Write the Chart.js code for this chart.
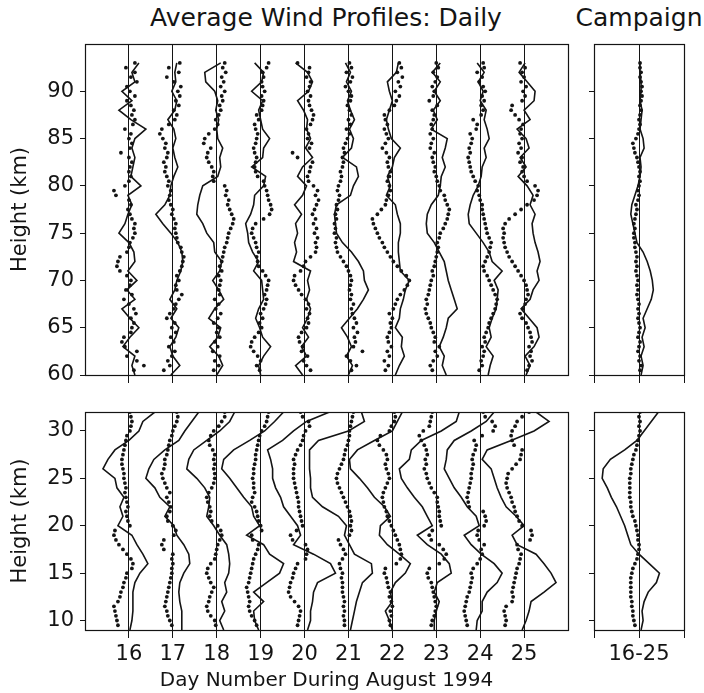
<!DOCTYPE html>
<html>
<head>
<meta charset="utf-8">
<script src="https://cdn.jsdelivr.net/npm/chart.js@4.4.1/dist/chart.umd.min.js"></script>
<style>
  body { margin: 0; background: #fff; }
  #page { position: relative; width: 704px; height: 693px; overflow: hidden; background: #fff; }
  canvas { position: absolute; }
  .head { position: absolute; top: 3px; text-align: center; font: 25px "DejaVu Sans", sans-serif; color: #141414; white-space: nowrap; }
</style>
</head>
<body>
<div id="page">
  <div class="head" style="left:84px; width:484px;">Average Wind Profiles: Daily</div>
  <div class="head" style="left:564px; width:150px;">Campaign</div>
  <canvas id="upperDaily" width="580" height="360" style="left:0; top:40px;"></canvas>
  <canvas id="lowerDaily" width="580" height="285" style="left:0; top:408px;"></canvas>
  <canvas id="upperCamp" width="102" height="360" style="left:584px; top:40px;"></canvas>
  <canvas id="lowerCamp" width="102" height="285" style="left:584px; top:408px;"></canvas>
</div>
<script>
// wind profiles, drawn as an offset (m/s) from each day's line
const DAYS = [16, 17, 18, 19, 20, 21, 22, 23, 24, 25];
const MS_PER_DAY = 44;   // wind speed that spans one day on the x axis

function steps(from, to, step) {
    const out = [];
    for (let v = from; v <= to + 1e-9; v += step) out.push(+v.toFixed(1));
    return out;
}

// range gates (km)
const upperLineKm = steps(60, 93, 1);
const upperDotKm = steps(60.5, 93, 0.5);
const lowerLineKm = steps(9, 32, 1);
const lowerDotKm = steps(9.5, 32, 0.5);

const upperTicks = [60, 65, 70, 75, 80, 85, 90];
const lowerTicks = [10, 15, 20, 25, 30];

// ---- upper panel (60-93 km), solid line ----
const upLine16 = [6,3,6,-6,1,10,1,-7,6,-2,8,-1,6,5,0,-10,-4,-1,3,-1,12,2,4,6,3,6,17,2,-10,3,-7,6,3,10];
const upLine17 = [-2,7,0,-3,3,6,-2,4,-3,2,4,8,10,9,5,-2,-10,-17,-8,-3,-2,1,5,2,0,3,1,-5,2,4,-1,3,2,4];
const upLine18 = [0,6,2,-7,1,4,-8,-2,7,2,-4,3,5,-2,-3,-10,-14,-20,-19,-17,-14,1,4,3,6,1,0,2,-1,1,-2,-11,-12,4];
const upLine19 = [0,-2,3,10,2,-1,-5,-2,3,2,1,-7,-2,-8,-12,-13,-15,-10,-7,-6,3,5,-9,2,3,9,2,0,-2,2,-9,1,3,-6];
const upLine20 = [-2,-9,2,-3,4,-2,3,6,2,5,3,6,-11,-8,-10,-7,-9,-3,-10,-2,2,-7,-2,8,1,6,2,3,-1,-7,4,8,3,-9];
const upLine21 = [0,4,-2,3,-1,-7,1,9,15,20,16,15,10,3,-6,-12,-13,-14,-12,2,5,10,8,-6,3,5,1,6,2,-1,3,-2,2,-3];
const upLine22 = [3,7,12,9,10,3,7,8,11,13,17,8,7,6,6,8,8,5,3,-6,-2,-5,0,2,8,-1,-4,-6,-3,0,-3,-5,4,6];
const upLine23 = [10,6,8,3,7,10,12,21,18,15,12,10,8,3,-2,-9,-10,-9,-5,2,4,5,9,6,9,11,-5,1,-3,4,-2,4,-4,4];
const upLine24 = [8,10,13,6,11,9,12,16,17,18,14,22,12,9,3,-4,-11,-12,-10,-7,-2,1,2,6,4,9,7,4,6,0,3,-2,4,-3];
const upLine25 = [2,6,1,10,15,13,5,-3,6,9,15,13,16,14,11,9,8,11,6,9,3,-6,2,-4,5,2,-7,6,0,10,11,3,-5,1];

// ---- upper panel, dotted ----
const upDots16 = [5,15,8,-2,8,-4,-7,-5,2,3, 5,2,7,5,0,-5,3,-3,1,2, -2,-9,-12,-11,-9,-2,0,1,4,6, 5,6,3,1,-1,2,0,-13,-15,-4, 0,2,0,1,3,0,-8,1,3,0, 2,-4,4,6,3,5,2,-2,6,1, -2,8,2,6,-3,6];
const upDots17 = [-9,-3,-5,-1,2,-4,1,-2,3,-1, 2,-6,-3,1,3,6,9,4,3,6, 4,7,9,10,11,9,8,5,4,3, 2,3,1,-1,0,-2,-4,-3,-2,-5, -4,-6,-8,-7,-9,-6,-5,-8,-7,-10, -13,-11,-4,2,4,1,6,3,7,5, 8,1,-6,6,-4,7];
const upDots18 = [-3,2,-2,3,-4,1,-2,3,0,2, -3,1,4,-1,2,-2,3,2,3,4, 2,5,3,5,6,7,8,10,11,12, 14,16,17,15,13,11,12,9,10,8, -3,-4,-3,-5,-8,-10,-9,-6,-13,-12, -8,-2,1,-1,2,4,3,6,5,8, 4,7,5,9,6,8];
const upDots19 = [-1,-4,0,-3,-7,-10,-9,-6,-2,1, -1,2,0,3,5,6,4,6,7,8, 5,2,-2,-3,-4,-2,-4,-5,-7,-9, -8,-5,3,9,11,10,8,7,6,4, 3,-3,-5,-6,-5,-4,-6,-7,-5,-4, -3,-5,-6,-2,-4,1,2,3,1,4, 2,1,3,2,6,8];
const upDots20 = [6,2,-1,3,-3,-2,-5,-6,-3,2, 4,3,5,2,4,1,-3,-6,-9,-11, -10,-4,-1,1,6,11,12,11,13,10, 12,9,11,8,10,12,14,11,13,9, 4,3,5,6,8,-7,-12,5,7,3, 4,2,6,8,9,7,5,4,6,3, 5,6,2,4,5,-7];
const upDots21 = [3,8,2,-2,14,5,7,6,9,5, 8,6,4,3,5,2,3,1,2,3, 2,0,-2,-5,-8,-11,-12,-13,-12,-14, -13,-14,-12,-13,-11,-12,-10,-9,-11,-10, -8,-7,-8,-6,-5,-6,-4,-5,-3,-1, 1,-2,2,0,3,1,-1,2,3,0, -3,2,4,-2,3,1];
const upDots22 = [-7,-4,-8,-3,-5,-1,-4,-5,-3,-1, -2,0,-3,1,3,5,8,12,15,17, 14,9,5,1,-2,-5,-8,-10,-13,-15, -17,-19,-20,-15,-11,-7,-6,-4,-2,-3, -5,-3,-2,-4,-5,-3,-6,-10,-7,-4, -6,-8,-5,-7,-8,-3,2,4,7,3, 8,6,10,5,9,7];
const upDots23 = [-4,-6,-3,1,-1,3,-2,-1,-3,-5, -6,-8,-10,-11,-9,-10,-8,-7,-6,-5, -3,-4,-2,-1,0,1,2,1,3,4, 7,9,11,12,13,11,9,8,4,3, 1,0,-2,-1,-3,-4,-2,-6,-5,-3, -6,-4,-5,-3,-2,-4,1,-7,-3,-2, -4,-1,1,-3,2,0];
const upDots24 = [-1,2,1,3,4,2,5,4,6,8, 9,11,13,15,16,17,15,13,11,9, 7,4,3,5,7,9,10,11,9,7, 6,5,4,3,2,2,0,-1,-3,-2, -5,-7,-9,-10,-11,-12,-10,-11,-9,-8, -10,-4,-3,-7,1,3,1,4,2,5, 3,-1,2,-3,4,3];
const upDots25 = [3,5,8,6,7,5,8,7,6,4, 2,-2,-4,-1,1,2,4,3,2,0, -3,-6,-9,-12,-15,-17,-19,-20,-21,-20, -21,-19,-15,-9,-3,3,10,13,14,11, 3,0,-2,-1,-4,-2,-6,-3,-5,-2, -4,-3,-1,-5,-9,-13,-12,-2,1,-1, 2,-3,0,-2,1,-4];

// ---- lower panel (9-32 km), solid line ----
const lowLine16 = [1,3,4,4,4,6,11,19,14,8,3,-11,-6,-9,-5,-12,-14,-26,-21,-14,0,10,14,26];
const lowLine17 = [9,9,9,7,6,7,11,17,16,11,4,1,-8,-3,-13,-18,-27,-24,-19,-8,6,12,19,26];
const lowLine18 = [7,3,8,5,10,8,12,13,12,10,3,-3,-10,-8,-7,-12,-20,-30,-28,-23,-10,3,13,18];
const lowLine19 = [-2,-6,-7,3,-7,6,19,23,9,3,-14,-1,-7,-9,-17,-24,-31,-39,-37,-27,-11,4,14,23];
const lowLine20 = [3,6,6,8,9,13,31,26,9,-11,-4,-7,-14,-21,-24,-29,-32,-32,-34,-37,-22,-11,2,25];
const lowLine21 = [2,4,6,8,11,14,24,23,6,1,-4,-2,-10,-26,-36,-38,-38,-39,-39,-39,-30,0,16,13];
const lowLine22 = [0,-3,-7,0,-2,3,13,18,7,-5,-13,-12,-2,-8,-18,-25,-33,-42,-43,-35,-18,0,5,10];
const lowLine23 = [-2,-2,0,3,-2,1,15,13,5,-9,-19,-4,-9,-14,-22,-29,-35,-37,-27,-25,-15,5,20,23];
const lowLine24 = [-4,-3,2,2,7,17,22,14,1,-9,-16,-1,-4,-13,-19,-26,-31,-36,-34,-33,-26,-9,6,14];
const lowLine25 = [-2,2,5,7,20,32,27,20,12,-7,-12,0,-8,-18,-23,-27,-30,-33,-42,-37,-13,10,25,12];

// ---- lower panel, dotted ----
const lowDots16 = [-11,-12,-13,-14,-15,-11,-9,-8,-6,-5, -3,-2,3,4,2,-2,-6,-10,-13,-15, -14,1,-1,-2,-3,-1,-2,-3,-4,-3, -4,-5,-5,-6,-7,-7,-6,-5,-4,-3, -2,1,2,3,2,1];
const lowDots17 = [-1,-3,-5,-6,-8,-7,-6,-5,-4,-3, -2,-1,-1,0,-1,0,-9,-11,-9,1, 3,0,-5,-6,-3,-2,-4,-6,-3,-6, -8,-10,-11,-9,-8,-8,-6,-5,-4,-3, -1,0,2,4,5,4];
const lowDots18 = [-1,-2,-6,-9,-10,-8,-7,-5,-3,-6, -8,-10,-9,-6,-2,-1,0,1,3,5, 4,1,-5,-7,-6,-7,-9,-10,-8,-5, -3,-2,-2,-3,-2,-3,-2,-4,-7,-8, -6,-3,2,5,8,8];
const lowDots19 = [-4,-6,-9,-11,-12,-11,-12,-13,-14,-12, -11,-10,-9,-8,-7,-5,-3,-2,-8,-9, 1,0,-2,-3,-4,-6,-9,-8,-6,-7, -7,-8,-7,-7,-6,-5,-5,-4,-3,-2, -1,1,4,6,7,8];
const lowDots20 = [-7,-6,-5,-4,-6,-10,-14,-16,-15,-14, -12,-11,-9,-7,1,2,3,1,-12,-14, -8,-2,-3,-4,-5,-6,-6,-7,-8,-9, -10,-11,-11,-11,-10,-11,-9,-7,-4,-2, -1,1,5,4,-2,-4];
const lowDots21 = [-4,-4,-5,-4,-5,-4,-5,-6,-6,-6, -7,-6,-8,-9,-6,-3,-5,-8,-10,1, 3,2,3,2,1,-1,-3,-5,-7,-9, -11,-12,-11,-9,-7,-5,-4,-3,-1,0, 1,1,2,3,4,5];
const lowDots22 = [-2,-3,-1,-2,0,-1,-3,-2,-4,-5, -6,-8,-7,4,8,9,8,7,5,3, 1,-1,-3,-5,-6,-8,-9,-10,-9,-7, -5,-3,-4,-6,-7,-5,-6,-9,-13,-15, -12,-3,-1,2,3,2];
const lowDots23 = [-5,-4,-2,-1,0,-1,-2,-3,-4,-5, -8,-9,-7,3,8,10,7,3,-5,-7, -4,5,4,3,3,2,1,1,-2,-5, -7,-9,-10,-12,-10,-11,-9,-10,-12,-15, -17,-13,-7,-6,-5,-4];
const lowDots24 = [-13,-14,-15,-16,-15,-14,-13,-11,-10,-9, -8,-9,-7,-3,0,2,1,4,-1,-3, -2,4,6,5,3,-11,-12,-13,-12,-11, -10,-9,-9,-8,-7,-8,-7,-5,-4,-6, 2,13,15,12,5,3];
const lowDots25 = [-19,-18,-19,-20,-18,-12,-11,-12,-11,-10, -9,-8,-7,-5,-4,-3,-6,-7,6,8, 7,-2,-5,-7,-9,-10,-12,-13,-15,-17, -18,-17,-16,-12,-8,-4,-3,-2,-10,-12, -13,-12,-9,-7,-2,5];

// ---- campaign means (16-25) ----
const campUpLine = [2,4,2,5,3,6,4,8,12,14,13,11,8,4,-2,-4,-6,-8,-7,-4,-1,1,2,1,5,4,1,2,3,1,2,2,1,1];
const campUpDots = [1,2,0,1,-1,0,1,-1,0,1, 0,-1,0,-1,0,-1,-2,-1,-2,-1, -2,-3,-2,-3,-2,-3,-4,-4,-5,-5, -4,-5,-4,-3,-2,-3,-1,0,-1,0, 1,0,1,0,-1,-2,-4,-5,-6,-3, -1,0,1,0,1,2,1,2,3,2, 3,2,1,2,1,1];
const campLowLine = [2,4,3,5,9,17,20,10,0,-8,-11,-14,-18,-22,-27,-31,-36,-35,-28,-14,-2,5,12,19];
const campLowDots = [-4,-5,-6,-6,-7,-7,-8,-8,-8,-8, -8,-7,-6,-4,-2,-1,0,0,-1,-1, -2,-3,-4,-6,-7,-8,-8,-9,-9,-9, -9,-9,-8,-8,-7,-6,-5,-3,-2,-1, 0,1,0,1,0,1];

const upLines = [upLine16, upLine17, upLine18, upLine19, upLine20, upLine21, upLine22, upLine23, upLine24, upLine25];
const upDots = [upDots16, upDots17, upDots18, upDots19, upDots20, upDots21, upDots22, upDots23, upDots24, upDots25];
const lowLines = [lowLine16, lowLine17, lowLine18, lowLine19, lowLine20, lowLine21, lowLine22, lowLine23, lowLine24, lowLine25];
const lowDots = [lowDots16, lowDots17, lowDots18, lowDots19, lowDots20, lowDots21, lowDots22, lowDots23, lowDots24, lowDots25];

const INK = '#141414';
const FONT = '"DejaVu Sans", sans-serif';

function profile(base, winds, heights, asLine) {
    return {
        data: winds.map((w, i) => ({ x: base + w / MS_PER_DAY, y: heights[i] })),
        showLine: asLine,
        borderColor: INK,
        backgroundColor: INK,
        borderWidth: asLine ? 1.6 : 0,
        pointRadius: asLine ? 0 : 1.9,
        pointHoverRadius: 0,
        tension: 0
    };
}

// box round the plot area
const frame = {
    id: 'frame',
    afterDatasetsDraw(chart) {
        const { ctx, chartArea: a } = chart;
        ctx.save();
        ctx.strokeStyle = INK;
        ctx.lineWidth = 1.2;
        ctx.strokeRect(Math.round(a.left) + 0.5, Math.round(a.top) + 0.5,
            Math.round(a.right - a.left), Math.round(a.bottom - a.top));
        ctx.restore();
    }
};

function makePanel(id, cfg) {
    const tickFont = { family: FONT, size: 21 };
    new Chart(document.getElementById(id), {
        type: 'scatter',
        data: { datasets: cfg.datasets },
        plugins: [frame],
        options: {
            responsive: false,
            animation: false,
            events: [],
            layout: { padding: { top: 4, right: cfg.padRight, bottom: 0, left: 0 } },
            plugins: { legend: { display: false }, tooltip: { enabled: false } },
            scales: {
                x: {
                    type: 'linear',
                    min: cfg.xMin, max: cfg.xMax,
                    afterBuildTicks: s => { s.ticks = cfg.xTicks.map(v => ({ value: v })); },
                    afterFit: s => { s.height = cfg.xHeight; s.paddingLeft = 0; s.paddingRight = 0; },
                    border: { display: false },
                    grid: { color: INK, lineWidth: 1, tickLength: 8, drawOnChartArea: true },
                    ticks: {
                        color: INK, font: tickFont, padding: 4, maxRotation: 0, autoSkip: false,
                        callback: cfg.xLabel
                    },
                    title: cfg.xTitle
                        ? { display: true, text: cfg.xTitle, color: INK, font: { family: FONT, size: 20 }, padding: { top: 0, bottom: 0 } }
                        : { display: false }
                },
                y: {
                    type: 'linear',
                    min: cfg.yMin, max: cfg.yMax,
                    afterBuildTicks: s => { s.ticks = cfg.yTicks.map(v => ({ value: v })); },
                    afterFit: s => { s.width = cfg.yWidth; s.paddingTop = 0; s.paddingBottom = 0; },
                    border: { display: false },
                    grid: { color: INK, lineWidth: 1, tickLength: 5, drawOnChartArea: false },
                    ticks: {
                        color: INK, font: tickFont, padding: 6,
                        callback: cfg.yLabels ? (v => v) : (() => '')
                    },
                    title: cfg.yLabels
                        ? { display: true, text: 'Height (km)', color: INK, font: { family: FONT, size: 21 }, padding: { top: 8 } }
                        : { display: false }
                }
            }
        }
    });
}

function dailySets(lines, dots, lineKm, dotKm) {
    const sets = [];
    DAYS.forEach((d, i) => {
        sets.push(profile(d, lines[i], lineKm, true));
        sets.push(profile(d, dots[i], dotKm, false));
    });
    return sets;
}

makePanel('upperDaily', {
    datasets: dailySets(upLines, upDots, upperLineKm, upperDotKm),
    xMin: 15, xMax: 26, xTicks: DAYS, xLabel: () => '', xHeight: 25,
    yMin: 60, yMax: 95, yTicks: upperTicks, yLabels: true, yWidth: 85, padRight: 12
});

makePanel('lowerDaily', {
    datasets: dailySets(lowLines, lowDots, lowerLineKm, lowerDotKm),
    xMin: 15, xMax: 26, xTicks: DAYS, xLabel: v => v, xHeight: 63,
    xTitle: 'Day Number During August 1994',
    yMin: 9, yMax: 32, yTicks: lowerTicks, yLabels: true, yWidth: 85, padRight: 12
});

makePanel('upperCamp', {
    datasets: [profile(0, campUpLine, upperLineKm, true), profile(0, campUpDots, upperDotKm, false)],
    xMin: -1, xMax: 1, xTicks: [-1, 0, 1], xLabel: () => '', xHeight: 25,
    yMin: 60, yMax: 95, yTicks: upperTicks, yLabels: false, yWidth: 10, padRight: 2
});

makePanel('lowerCamp', {
    datasets: [profile(0, campLowLine, lowerLineKm, true), profile(0, campLowDots, lowerDotKm, false)],
    xMin: -1, xMax: 1, xTicks: [-1, 0, 1], xLabel: v => (v === 0 ? '16-25' : ''), xHeight: 63,
    yMin: 9, yMax: 32, yTicks: lowerTicks, yLabels: false, yWidth: 10, padRight: 2
});
</script>
</body>
</html>
